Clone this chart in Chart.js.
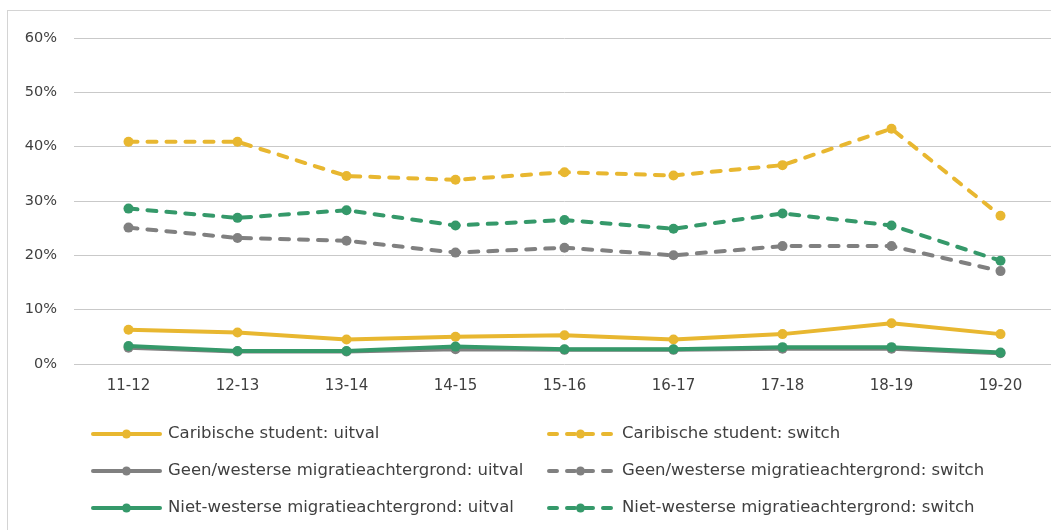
<!DOCTYPE html>
<html>
<head>
<meta charset="utf-8">
<script src="https://cdn.jsdelivr.net/npm/chart.js@4/dist/chart.umd.min.js"></script>
<style>
  html, body { margin: 0; padding: 0; background: #fff; overflow: hidden; }
  #frame { position: absolute; left: 7px; top: 10px; width: 1100px; height: 600px; border: 1px solid #d4d4d4; }
  #grafiek { position: absolute; left: 0; top: 0; }
</style>
</head>
<body>
<div id="frame"></div>
<canvas id="grafiek" width="1062" height="530"></canvas>
<script>
const jaren = ["11-12", "12-13", "13-14", "14-15", "15-16", "16-17", "17-18", "18-19", "19-20"];

const caribUitval = [6.3, 5.8, 4.5, 5.0, 5.3, 4.5, 5.5, 7.5, 5.5];
const caribSwitch = [40.9, 40.9, 34.6, 33.9, 35.3, 34.7, 36.6, 43.3, 27.3];
const geenUitval = [3.0, 2.3, 2.3, 2.7, 2.6, 2.6, 2.8, 2.8, 2.0];
const geenSwitch = [25.1, 23.2, 22.7, 20.5, 21.4, 20.0, 21.7, 21.7, 17.1];
const nietUitval = [3.3, 2.4, 2.4, 3.2, 2.7, 2.7, 3.1, 3.1, 2.1];
const nietSwitch = [28.6, 26.9, 28.3, 25.5, 26.5, 24.9, 27.7, 25.5, 19.0];

const yMin = 0;
const yMax = 60;
const yStap = 10;

const geel = "#E8B730";
const grijs = "#808080";
const groen = "#35996A";
const tekst = "#404040";
const lettertype = "'DejaVu Sans', sans-serif";

function reeks(label, data, kleur, gestippeld, i) {
  return {
    label: label,
    data: data,
    borderColor: kleur,
    backgroundColor: kleur,
    borderWidth: 4,
    borderDash: gestippeld ? [9, 10] : [],
    borderCapStyle: "round",
    borderJoinStyle: "round",
    pointRadius: 5,
    pointHoverRadius: 5,
    pointBorderWidth: 0,
    tension: 0,
    order: -i,
    gestippeld: gestippeld
  };
}

const legendaPlugin = {
  id: "legendaRaster",
  afterDraw(chart) {
    const ctx = chart.ctx;
    const kolommen = [91, 545];
    const rijen = [434, 471, 508];
    const lengte = 71;
    ctx.save();
    chart.data.datasets.forEach((ds, i) => {
      const x = kolommen[i % 2];
      const y = rijen[Math.floor(i / 2)];
      ctx.strokeStyle = ds.borderColor;
      ctx.lineWidth = 4;
      ctx.lineCap = "round";
      ctx.setLineDash(ds.gestippeld ? [8, 10] : []);
      ctx.lineDashOffset = ds.gestippeld ? -2 : 0;
      ctx.beginPath();
      ctx.moveTo(x + 2, y);
      ctx.lineTo(x + lengte - 2, y);
      ctx.stroke();
      ctx.setLineDash([]);
      ctx.fillStyle = ds.borderColor;
      ctx.beginPath();
      ctx.arc(x + lengte / 2, y, 4.5, 0, Math.PI * 2);
      ctx.fill();
      ctx.fillStyle = tekst;
      ctx.font = "16.5px " + lettertype;
      ctx.textBaseline = "middle";
      ctx.textAlign = "left";
      ctx.fillText(ds.label, x + lengte + 6, y);
    });
    ctx.restore();
  }
};

new Chart(document.getElementById("grafiek"), {
  type: "line",
  data: {
    labels: jaren,
    datasets: [
      reeks("Caribische student: uitval", caribUitval, geel, false, 0),
      reeks("Caribische student: switch", caribSwitch, geel, true, 1),
      reeks("Geen/westerse migratieachtergrond: uitval", geenUitval, grijs, false, 2),
      reeks("Geen/westerse migratieachtergrond: switch", geenSwitch, grijs, true, 3),
      reeks("Niet-westerse migratieachtergrond: uitval", nietUitval, groen, false, 4),
      reeks("Niet-westerse migratieachtergrond: switch", nietSwitch, groen, true, 5)
    ]
  },
  options: {
    responsive: false,
    animation: false,
    layout: { padding: { top: 38, right: 7, bottom: 0, left: 0 } },
    plugins: {
      legend: { display: false },
      tooltip: { enabled: false }
    },
    scales: {
      x: {
        offset: true,
        grid: { display: false, drawTicks: false },
        border: { display: false },
        ticks: { color: tekst, font: { family: lettertype, size: 15 }, padding: 13 },
        afterFit: s => { s.height = 166; }
      },
      y: {
        min: yMin,
        max: yMax,
        grid: { color: "#c9c9c9", lineWidth: 1, drawTicks: false },
        border: { display: false },
        ticks: {
          stepSize: yStap,
          color: tekst,
          font: { family: lettertype, size: 14.5 },
          padding: 17,
          callback: v => v + "%"
        },
        afterFit: s => { s.width = 74; }
      }
    }
  },
  plugins: [legendaPlugin]
});
</script>
</body>
</html>
